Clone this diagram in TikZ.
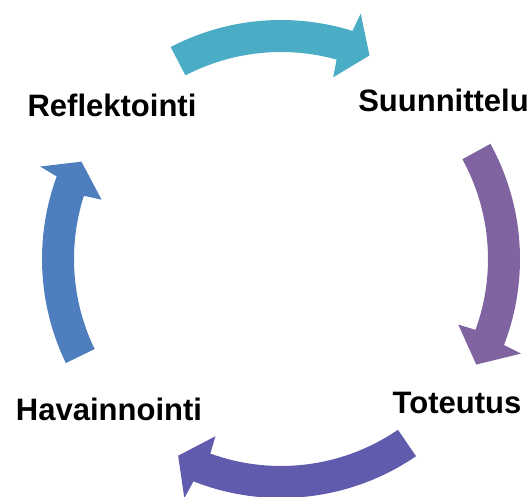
\documentclass[tikz,border=0pt]{standalone}
\usepackage{fontspec}
\setmainfont{Liberation Sans}
\definecolor{ctop}{RGB}{75,172,198}
\definecolor{cright}{RGB}{128,100,162}
\definecolor{cbottom}{RGB}{96,91,172}
\definecolor{cleft}{RGB}{79,126,190}
\newcommand\cyclearrow[6]{%
  \fill[#1] (#2:239pt) arc[start angle=#2, end angle=#3, radius=239pt]
    -- (#4:258pt) -- (#5:222pt) -- (#6:189pt)
    -- ({#3+0.9*(#6-#4)}:207pt) arc[start angle={#3+0.9*(#6-#4)}, end angle=#2, radius=207pt] -- cycle;}
\begin{document}
\begin{tikzpicture}[x=1pt,y=1pt,
  lbl/.style={font=\fontsize{31}{36}\selectfont\bfseries, text=black, inner sep=0pt, anchor=base}]
\useasboundingbox (0,0) rectangle (531,497);
\coordinate (C) at (281,238);
\begin{scope}[shift={(C)}]
  % color, tail, shaft-outer end, barb outer, tip, barb inner
  \cyclearrow{ctop}{117.5}{72.6}{72}{66.5}{74}
  \cyclearrow{cright}{28.8}{-21.1}{-21.5}{-28.4}{-20.3}
  \cyclearrow{cbottom}{-55.6}{-111.5}{-112}{-117.6}{-110.3}
  \cyclearrow{cleft}{205.8}{159.8}{159}{154}{161.7}
\end{scope}
\node[lbl] (refl) at (112,380) {Reflektointi};
\node[lbl] (suun) at (443.5,385) {Suunnittelu};
\node[lbl] (tote) at (457,83) {Toteutus};
\node[lbl] (hava) at (109,76) {Havainnointi};
\end{tikzpicture}
\end{document}
